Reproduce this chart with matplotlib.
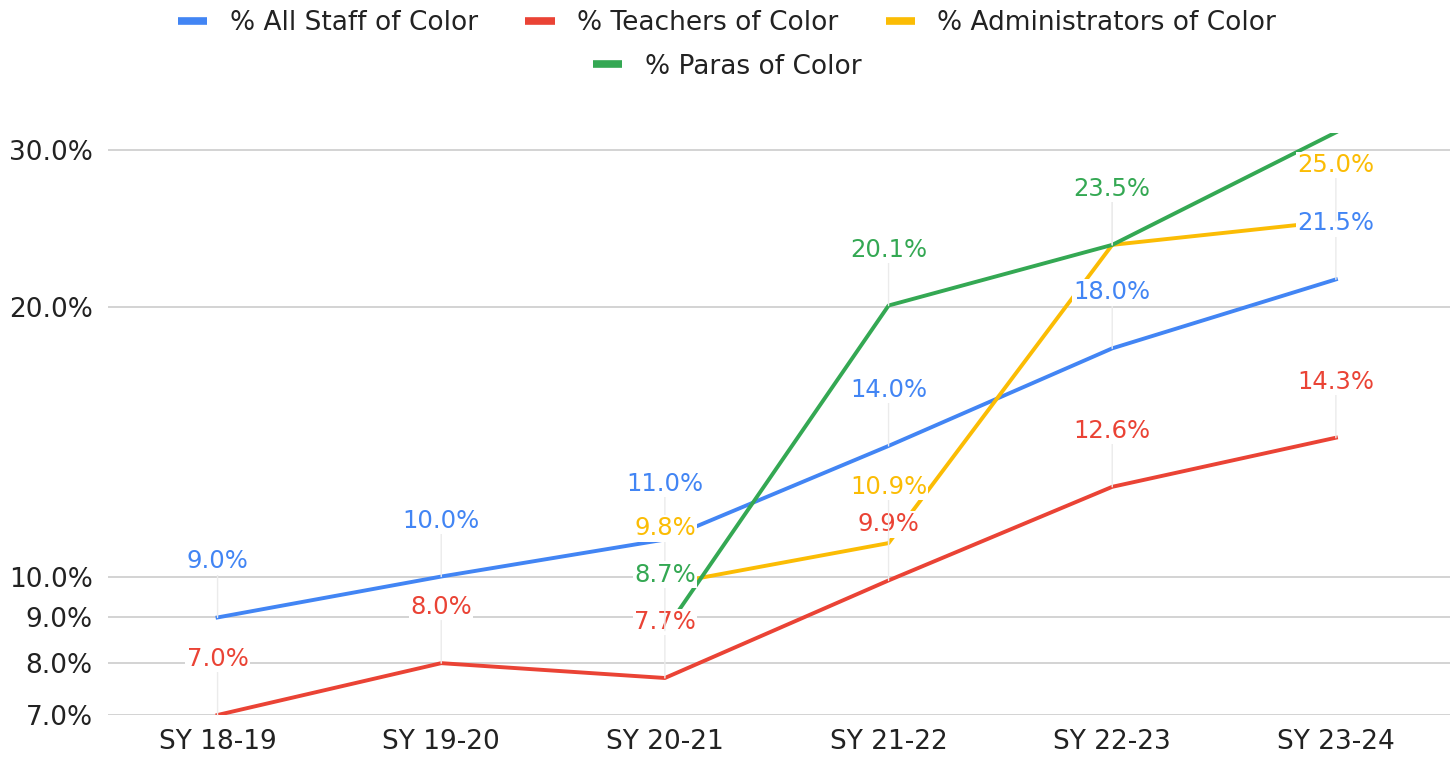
import matplotlib
matplotlib.use("Agg")
import matplotlib.pyplot as plt
from matplotlib.lines import Line2D
from matplotlib.ticker import FixedLocator, FuncFormatter, NullLocator
import numpy as np

categories = ["SY 18-19", "SY 19-20", "SY 20-21", "SY 21-22", "SY 22-23", "SY 23-24"]
all_staff = [9.0, 10.0, 11.0, 14.0, 18.0, 21.5]
teachers = [7.0, 8.0, 7.7, 9.9, 12.6, 14.3]
admins = [None, None, 9.8, 10.9, 23.5, 25.0]
paras = [None, None, 8.7, 20.1, 23.5, 31.4]
y_ticks = [7, 8, 9, 10, 20, 30]

series = [
    ("% All Staff of Color", all_staff, "#4285F4"),
    ("% Teachers of Color", teachers, "#EA4335"),
    ("% Administrators of Color", admins, "#FBBC04"),
    ("% Paras of Color", paras, "#34A853"),
]

plt.rcParams["font.family"] = ["DejaVu Sans"]

fig = plt.figure(figsize=(14.53, 7.67), dpi=100)
ax = fig.add_axes([0.0743, 0.0678, 0.9236, 0.7588])
x = np.arange(len(categories))

ax.set_yscale("log")
ax.set_ylim(7.0, 31.35)
ax.set_xlim(-0.49, 5.51)
ax.yaxis.set_major_locator(FixedLocator(y_ticks))
ax.yaxis.set_minor_locator(NullLocator())
ax.yaxis.set_major_formatter(FuncFormatter(lambda v, p: f"{v:.1f}%"))
ax.set_xticks(x)
ax.set_xticklabels(categories)
ax.tick_params(axis="both", length=0, labelsize=19, labelcolor="#222222")
ax.tick_params(axis="y", pad=11)
ax.tick_params(axis="x", pad=10)
ax.grid(axis="y", color="#cccccc", lw=1.2)
ax.set_axisbelow(True)
for s in ax.spines.values():
    s.set_visible(False)

for name, vals, col in series:
    xs = [xi for xi, v in zip(x, vals) if v is not None]
    ys = [v for v in vals if v is not None]
    ax.plot(xs, ys, color=col, lw=2.8, zorder=3, solid_joinstyle="round")

for name, vals, col in series:
    for xi, v in zip(x, vals):
        if v is None:
            continue
        ax.annotate(f"{v:.1f}%", xy=(xi, v), xytext=(0, 56), textcoords="offset pixels",
                    ha="center", va="center", fontsize=17.5, color=col, zorder=5,
                    bbox=dict(boxstyle="square,pad=0.05", fc="white", ec="none"),
                    arrowprops=dict(arrowstyle="-", color="#ebebeb", lw=1,
                                    shrinkA=0, shrinkB=0))

handles = [Line2D([], [], color=c, lw=5.5, solid_capstyle="butt") for _, _, c in series]
names = [n for n, _, _ in series]
leg_kw = dict(frameon=False, handlelength=1.1, handletextpad=0.85,
              columnspacing=1.8, prop={"size": 19}, borderpad=0, borderaxespad=0)
leg1 = fig.legend(handles[:3], names[:3], loc="center", bbox_to_anchor=(0.5005, 0.970),
                  ncol=3, **leg_kw)
leg2 = fig.legend(handles[3:], names[3:], loc="center", bbox_to_anchor=(0.5005, 0.913),
                  ncol=1, **leg_kw)
for lg in (leg1, leg2):
    for t in lg.get_texts():
        t.set_color("#222222")

fig.savefig("out.png", dpi=100)
